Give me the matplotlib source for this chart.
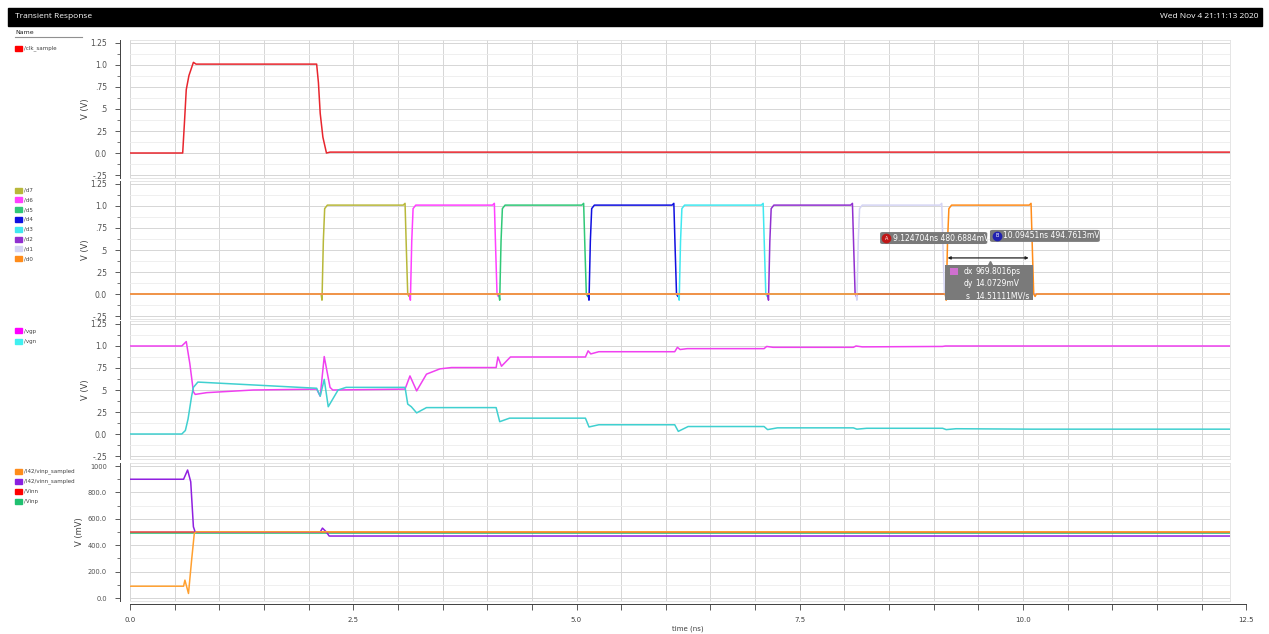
import numpy as np
import matplotlib
matplotlib.use('Agg')
import matplotlib.pyplot as plt
from matplotlib.patches import Rectangle, FancyBboxPatch
from matplotlib.ticker import MultipleLocator, FuncFormatter

W, H = 1269, 634
T_END = 12.32

clk_t = [0.0, 0.59, 0.61, 0.63, 0.66, 0.69, 0.71, 0.74, 2.09, 2.11, 2.13, 2.16, 2.20, 2.24, T_END]
clk_v = [0.0, 0.0, 0.35, 0.72, 0.88, 0.97, 1.03, 1.01, 1.01, 0.80, 0.45, 0.18, 0.0, 0.01, 0.01]

d_names = ['/d7', '/d6', '/d5', '/d4', '/d3', '/d2', '/d1', '/d0']
d_colors = ['#b8b83a', '#ff40ff', '#30c878', '#1010e0', '#40e8f0', '#9030d0', '#d4d4f4', '#ff8c1a']
d_rise = [2.15, 3.14, 4.14, 5.14, 6.15, 7.15, 8.14, 9.14]
d_fall = [3.09, 4.09, 5.09, 6.10, 7.10, 8.10, 9.10, 10.10]
d_high = 1.01
d_dip = -0.07

vgp_t = [0.0, 0.58, 0.63, 0.67, 0.71, 0.73, 0.86, 1.38, 2.09, 2.13, 2.175, 2.24, 2.27, 3.08,
         3.135, 3.21, 3.32, 3.47, 3.60, 4.10, 4.12, 4.16, 4.26, 5.10, 5.13, 5.16, 5.25,
         6.10, 6.13, 6.16, 6.24, 7.10, 7.13, 7.20, 8.10, 8.13, 8.20, 9.10, 9.13, 12.32]
vgp_v = [1.0, 1.0, 1.05, 0.80, 0.48, 0.45, 0.47, 0.50, 0.51, 0.43, 0.88, 0.53, 0.50, 0.51,
         0.66, 0.49, 0.68, 0.74, 0.755, 0.755, 0.875, 0.77, 0.875, 0.875, 0.945, 0.91, 0.935,
         0.935, 0.985, 0.96, 0.97, 0.97, 0.995, 0.985, 0.985, 1.0, 0.99, 0.995, 1.0, 1.0]

vgn_t = [0.0, 0.58, 0.62, 0.65, 0.69, 0.71, 0.76, 2.09, 2.13, 2.175, 2.22, 2.33, 2.42, 3.08,
         3.11, 3.15, 3.21, 3.32, 4.10, 4.14, 4.25, 5.10, 5.14, 5.25, 6.10, 6.14, 6.25,
         7.10, 7.14, 7.25, 8.10, 8.14, 8.25, 9.10, 9.14, 9.25, 10.10, 12.32]
vgn_v = [0.0, 0.0, 0.04, 0.17, 0.43, 0.53, 0.59, 0.52, 0.43, 0.62, 0.31, 0.50, 0.53, 0.53,
         0.34, 0.31, 0.24, 0.30, 0.30, 0.14, 0.18, 0.18, 0.08, 0.105, 0.105, 0.03, 0.085,
         0.085, 0.05, 0.07, 0.07, 0.055, 0.065, 0.065, 0.05, 0.06, 0.055, 0.055]

vinp_s_t = [0.0, 0.60, 0.615, 0.655, 0.69, 0.72, 0.74, T_END]
vinp_s_v = [90, 90, 136, 35, 288, 490, 502, 502]
vinn_s_t = [0.0, 0.60, 0.645, 0.68, 0.71, 0.73, 2.13, 2.155, 2.20, 2.23, T_END]
vinn_s_v = [900, 900, 970, 881, 540, 500, 500, 530, 500, 470, 470]
vinn_t = [0.0, T_END]
vinn_v = [500, 500]
vinp_t = [0.0, T_END]
vinp_v = [496, 496]

marker_a = (9.124704, 480.6884)
marker_b = (10.09451, 494.7613)
label_a = '9.124704ns 480.6884mV'
label_b = '10.09451ns 494.7613mV'
delta_rows = [('dx', '969.8016ps'), ('dy', '14.0729mV'), ('s', '14.51111MV/s')]


def fx(px):
    return px / W


def fy(py):
    return 1 - py / H


def pulse(tr, tf):
    t = [0.0, tr - 0.01, tr, tr + 0.015, tr + 0.03, tr + 0.06, tf - 0.03, tf - 0.01,
         tf + 0.005, tf + 0.02, tf + 0.035, tf + 0.05, T_END]
    v = [0.0, 0.0, d_dip, 0.6, 0.97, d_high, d_high, d_high + 0.02,
         0.5, 0.0, d_dip * 0.4, 0.0, 0.0]
    return t, v


fig = plt.figure(figsize=(W / 100, H / 100), dpi=100)
fig.patch.set_facecolor('white')

# header bar
fig.add_artist(Rectangle((fx(8), fy(26)), fx(1262 - 8), 18 / H, transform=fig.transFigure,
                         color='black', zorder=0))
fig.text(fx(15), fy(17), 'Transient Response', color='white', fontsize=6, va='center',
         family='Open Sans')
fig.text(fx(1259), fy(17), 'Wed Nov 4 21:11:13 2020', color='white', fontsize=6,
         va='center', ha='right', family='Open Sans')
fig.text(fx(15), fy(32), 'Name', fontsize=4.5, va='center', color='#202020')
fig.add_artist(plt.Line2D([fx(15), fx(82)], [fy(37), fy(37)], transform=fig.transFigure,
                          color='#909090', lw=0.8))

LEFT = 130
RIGHT = LEFT + T_END * 89.3
panel_tops = [40, 181, 321, 463]
PH = 138

vfmt = {1.25: '1.25', 1.0: '1.0', 0.75: '.75', 0.5: '.5', 0.25: '.25', 0.0: '0.0', -0.25: '-.25'}


def make_ax(top, ylim, major, minor, fmt, ylabel, lsize=5.5, lx=-0.036):
    ax = fig.add_axes([fx(LEFT), fy(top + PH), fx(RIGHT - LEFT), PH / H])
    ax.set_xlim(0, T_END)
    ax.set_ylim(*ylim)
    ax.xaxis.set_major_locator(MultipleLocator(0.5))
    ax.yaxis.set_major_locator(MultipleLocator(major))
    ax.yaxis.set_minor_locator(MultipleLocator(minor))
    ax.yaxis.set_major_formatter(FuncFormatter(fmt))
    ax.tick_params(axis='x', bottom=False, labelbottom=False)
    ax.tick_params(axis='y', which='major', length=3.5, width=0.6, labelsize=lsize,
                   labelcolor='#505050', color='#404040', pad=6)
    ax.tick_params(axis='y', which='minor', length=2, width=0.5, color='#404040')
    ax.grid(which='major', color='#d6d6d6', lw=0.7)
    ax.grid(which='minor', axis='y', color='#ececec', lw=0.6)
    ax.set_axisbelow(True)
    for s in ['top', 'right', 'bottom']:
        ax.spines[s].set_color('#e0e0e0')
        ax.spines[s].set_linewidth(0.6)
    ax.spines['left'].set_position(('outward', 7))
    ax.spines['left'].set_color('#404040')
    ax.spines['left'].set_linewidth(0.7)
    ax.set_ylabel(ylabel, fontsize=6, color='#404040')
    ax.yaxis.set_label_coords(lx, 0.5)
    return ax


def legend_item(py, color, label):
    fig.add_artist(Rectangle((fx(15), fy(py + 2.5)), fx(7), 5 / H, transform=fig.transFigure,
                             color=color))
    fig.text(fx(24), fy(py), label, fontsize=4, va='center', color='#404040')


vlim = (-0.284, 1.284)
volt_fmt = lambda v, p: vfmt.get(round(v, 2), '')

# panel 1
ax1 = make_ax(panel_tops[0], vlim, 0.25, 0.125, volt_fmt, 'V (V)')
ax1.plot(clk_t, clk_v, color='#e8262e', lw=1.1)
legend_item(48, '#ff0000', '/clk_sample')

# panel 2
ax2 = make_ax(panel_tops[1], vlim, 0.25, 0.125, volt_fmt, 'V (V)')
for i, (name, col) in enumerate(zip(d_names, d_colors)):
    t, v = pulse(d_rise[i], d_fall[i])
    ax2.plot(t, v, color=col, lw=1.1)
    legend_item(190 + i * 9.8, col, name)

# markers / delta annotation
box_kw = dict(boxstyle='round,pad=0,rounding_size=0.03', fc='#7a7a7a', ec='none', zorder=5,
              mutation_aspect=0.5)
ax2.add_patch(FancyBboxPatch((8.40, 0.568), 1.20, 0.136, **box_kw))
ax2.plot([8.47], [0.636], 'o', ms=6, color='#c01818', zorder=6)
ax2.text(8.47, 0.636, 'A', fontsize=3.5, color='white', ha='center', va='center', zorder=7)
ax2.text(8.54, 0.636, label_a, fontsize=5.5, color='white', ha='left', va='center', zorder=7)
ax2.add_patch(FancyBboxPatch((9.63, 0.592), 1.23, 0.136, **box_kw))
ax2.plot([9.71], [0.66], 'o', ms=6, color='#2020b0', zorder=6)
ax2.text(9.71, 0.66, 'B', fontsize=3.5, color='white', ha='center', va='center', zorder=7)
ax2.text(9.78, 0.66, label_b, fontsize=5.5, color='white', ha='left', va='center', zorder=7)
ax2.annotate('', xy=(marker_a[0], 0.41), xytext=(marker_b[0], 0.41),
             arrowprops=dict(arrowstyle='<|-|>', color='#202020', lw=0.9, mutation_scale=4),
             zorder=6)
ax2.add_patch(Rectangle((9.13, -0.07), 0.98, 0.40, fc='#7a7a7a', ec='none', zorder=5))
ax2.plot([9.63], [0.345], marker='^', ms=5, color='#7a7a7a', zorder=5)
ax2.add_patch(Rectangle((9.18, 0.22), 0.09, 0.08, fc='#d070d0', ec='none', zorder=6))
for (key, val), yv, kx in zip(delta_rows, [0.26, 0.114, -0.025], [9.33, 9.33, 9.36]):
    ax2.text(kx, yv, key, fontsize=5.5, color='white', va='center', zorder=7)
    ax2.text(9.47, yv, val, fontsize=5.5, color='white', va='center', zorder=7)

# panel 3
ax3 = make_ax(panel_tops[2], vlim, 0.25, 0.125, volt_fmt, 'V (V)')
ax3.plot(vgp_t, vgp_v, color='#f040f0', lw=1.1)
ax3.plot(vgn_t, vgn_v, color='#40d0d0', lw=1.1)
legend_item(331, '#ff00ff', '/vgp')
legend_item(341, '#40f0f0', '/vgn')

# panel 4
mv_fmt = lambda v, p: '1000' if round(v) == 1000 else ('%.1f' % v if v >= 0 else '')
ax4 = make_ax(panel_tops[3], (-22, 1023), 200, 100, mv_fmt, 'V (mV)', lsize=4.8, lx=-0.042)
ax4.plot(vinp_t, vinp_v, color='#20c070', lw=1.1)
ax4.plot(vinn_t, vinn_v, color='#e84040', lw=1.1)
ax4.plot(vinn_s_t, vinn_s_v, color='#9020e0', lw=1.1)
ax4.plot(vinp_s_t, vinp_s_v, color='#ffa030', lw=1.1)
legend_item(471, '#ff8c1a', '/I42/vinp_sampled')
legend_item(481, '#8a20e0', '/I42/vinn_sampled')
legend_item(491, '#ff0000', '/Vinn')
legend_item(501, '#20c070', '/Vinp')

# time axis
axt = fig.add_axes([fx(LEFT), fy(604), fx(12.5 * 89.3), 0.0001])
axt.set_xlim(0, 12.5)
axt.set_yticks([])
for s in ['top', 'right', 'left']:
    axt.spines[s].set_visible(False)
axt.spines['bottom'].set_color('#404040')
axt.spines['bottom'].set_linewidth(0.7)
axt.xaxis.set_major_locator(MultipleLocator(0.5))
axt.xaxis.set_major_formatter(FuncFormatter(
    lambda v, p: '%.1f' % v if abs(v / 2.5 - round(v / 2.5)) < 1e-6 else ''))
axt.tick_params(axis='x', length=4, width=0.6, color='#404040', labelsize=5,
                labelcolor='#404040', pad=5)
axt.set_xlabel('time (ns)', fontsize=5, color='#404040', labelpad=2)

fig.savefig('out.png', dpi=100)
